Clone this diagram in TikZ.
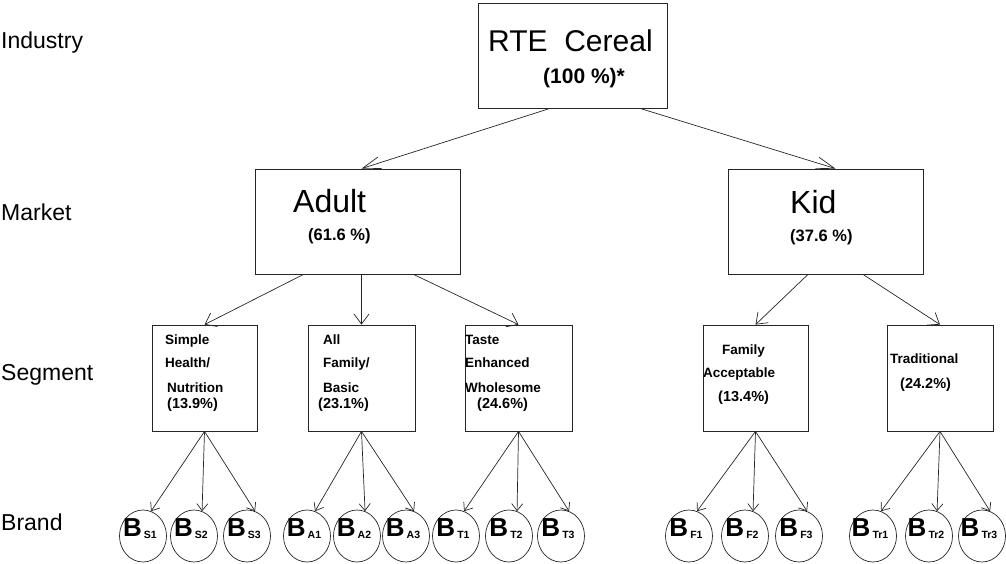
\documentclass[tikz,border=0pt]{standalone}
\usepackage{fontspec}
\setmainfont{Liberation Sans}
\usetikzlibrary{arrows.meta,shapes.geometric}
\begin{document}
\begin{tikzpicture}[x=1pt,y=-1pt,
  box/.style={draw=black!85, line width=0.8pt, inner sep=0pt},
  txt/.style={anchor=base west, inner sep=0pt},
  lvl/.style={anchor=base west, inner sep=0pt, font=\fontsize{23}{23}\selectfont},
  segtxt/.style={anchor=base west, inner sep=0pt, font=\fontsize{13.5}{13.5}\selectfont\bfseries},
  segpct/.style={anchor=base west, inner sep=0pt, font=\fontsize{14.5}{14.5}\selectfont\bfseries},
  brandE/.style={ellipse, draw=black!85, line width=0.7pt, minimum width=47pt, minimum height=52pt, inner sep=0pt},
  brandlab/.style={anchor=base, inner sep=0pt},
  arrtop/.style={draw=black!85, line width=0.7pt, -{Straight Barb[length=18pt,width=12pt]}},
  arrmid/.style={draw=black!85, line width=0.7pt, -{Straight Barb[length=10pt,width=15pt]}},
  arrlow/.style={draw=black!85, line width=0.7pt, -{Straight Barb[length=7pt,width=11pt]}}
]
\useasboundingbox (0,0) rectangle (1006,564);

% level labels
\node[lvl] (lInd) at (1,49) {Industry};
\node[lvl] (lMar) at (1,220) {Market};
\node[lvl] (lSeg) at (1,380) {Segment};
\node[lvl] (lBra) at (1,530) {Brand};

% top box
\node[box, minimum width=189pt, minimum height=105pt] (top) at (572.5,55.5) {};
\node[txt, font=\fontsize{30}{30}\selectfont] (topT) at (488,52) {RTE\ \ Cereal};
\node[txt, font=\fontsize{21}{21}\selectfont\bfseries] (topP) at (543,84) {(100 \%)*};

% market boxes
\node[box, minimum width=205pt, minimum height=105pt] (adult) at (357.5,221.5) {};
\node[txt, font=\fontsize{32}{32}\selectfont] (adultT) at (293,212) {Adult};
\node[txt, font=\fontsize{16.5}{16.5}\selectfont\bfseries] (adultP) at (308,240) {(61.6 \%)};

\node[box, minimum width=195pt, minimum height=105pt] (kid) at (825.5,221.5) {};
\node[txt, font=\fontsize{32}{32}\selectfont] (kidT) at (790,213) {Kid};
\node[txt, font=\fontsize{16.5}{16.5}\selectfont\bfseries] (kidP) at (790,241) {(37.6 \%)};

% segment boxes
\node[box, minimum width=105pt, minimum height=106pt] (s1) at (204.5,378) {};
\node[box, minimum width=107pt, minimum height=106pt] (s2) at (361.5,378) {};
\node[box, minimum width=107pt, minimum height=106pt] (s3) at (518.5,378) {};
\node[box, minimum width=105pt, minimum height=106pt] (s4) at (755.5,378) {};
\node[box, minimum width=106pt, minimum height=106pt] (s5) at (940,378) {};

\node[segtxt] (s1a) at (165,344) {Simple};
\node[segtxt] (s1b) at (165,367) {Health/};
\node[segtxt] (s1c) at (167,392) {Nutrition};
\node[segpct] (s1d) at (167,408) {(13.9\%)};

\node[segtxt] (s2a) at (323,344) {All};
\node[segtxt] (s2b) at (323,367) {Family/};
\node[segtxt] (s2c) at (323,392) {Basic};
\node[segpct] (s2d) at (318,408) {(23.1\%)};

\node[segtxt] (s3a) at (465,344) {Taste};
\node[segtxt] (s3b) at (465,367) {Enhanced};
\node[segtxt] (s3c) at (465,392) {Wholesome};
\node[segpct] (s3d) at (477,408) {(24.6\%)};

\node[segtxt] (s4a) at (722,354) {Family};
\node[segtxt] (s4b) at (703,377) {Acceptable};
\node[segpct] (s4c) at (718,401) {(13.4\%)};

\node[segtxt] (s5a) at (890,363) {Traditional};
\node[segpct] (s5b) at (900,388) {(24.2\%)};

% brand ellipses
\foreach \n/\x/\s in {bS1/143/S1, bS2/194/S2, bS3/247/S3,
                       bA1/307/A1, bA2/357/A2, bA3/406/A3,
                       bT1/456/T1, bT2/509/T2, bT3/561/T3,
                       bF1/689/F1, bF2/745/F2, bF3/799/F3,
                       bR1/873/Tr1, bR2/929/Tr2, bR3/982/Tr3}{
  \node[brandE] (\n) at (\x,536) {};
  \node[brandlab] (\n-l) at ([xshift=-3pt,yshift=0pt]\n.center)
    {{\fontsize{26}{26}\selectfont\bfseries B}\kern2pt\raisebox{-2.5pt}{\fontsize{10.5}{10.5}\selectfont\bfseries \s}};
}

% connectors: industry -> market
\draw[arrtop] ([xshift=-22.5pt]top.south) -- ([xshift=4pt]adult.north);
\draw[arrtop] ([xshift=67.5pt]top.south) -- ([xshift=10pt]kid.north);

% market -> segment
\draw[arrmid] ([xshift=-54pt]adult.south) -- (s1.north);
\draw[arrmid] (s2.north |- adult.south) -- (s2.north);
\draw[arrmid] ([xshift=56pt]adult.south) -- (s3.north);
\draw[arrmid] ([xshift=-17.5pt]kid.south) -- (s4.north);
\draw[arrmid] ([xshift=37.5pt]kid.south) -- (s5.north);

% segment -> brand
\foreach \b/\a in {s1/bS1, s1/bS2, s1/bS3,
                   s2/bA1, s2/bA2, s2/bA3,
                   s3/bT1, s3/bT2, s3/bT3,
                   s4/bF1, s4/bF2, s4/bF3,
                   s5/bR1, s5/bR2, s5/bR3}{
  \draw[arrlow] (\b.south) -- (\a.72);
}
\end{tikzpicture}
\end{document}
